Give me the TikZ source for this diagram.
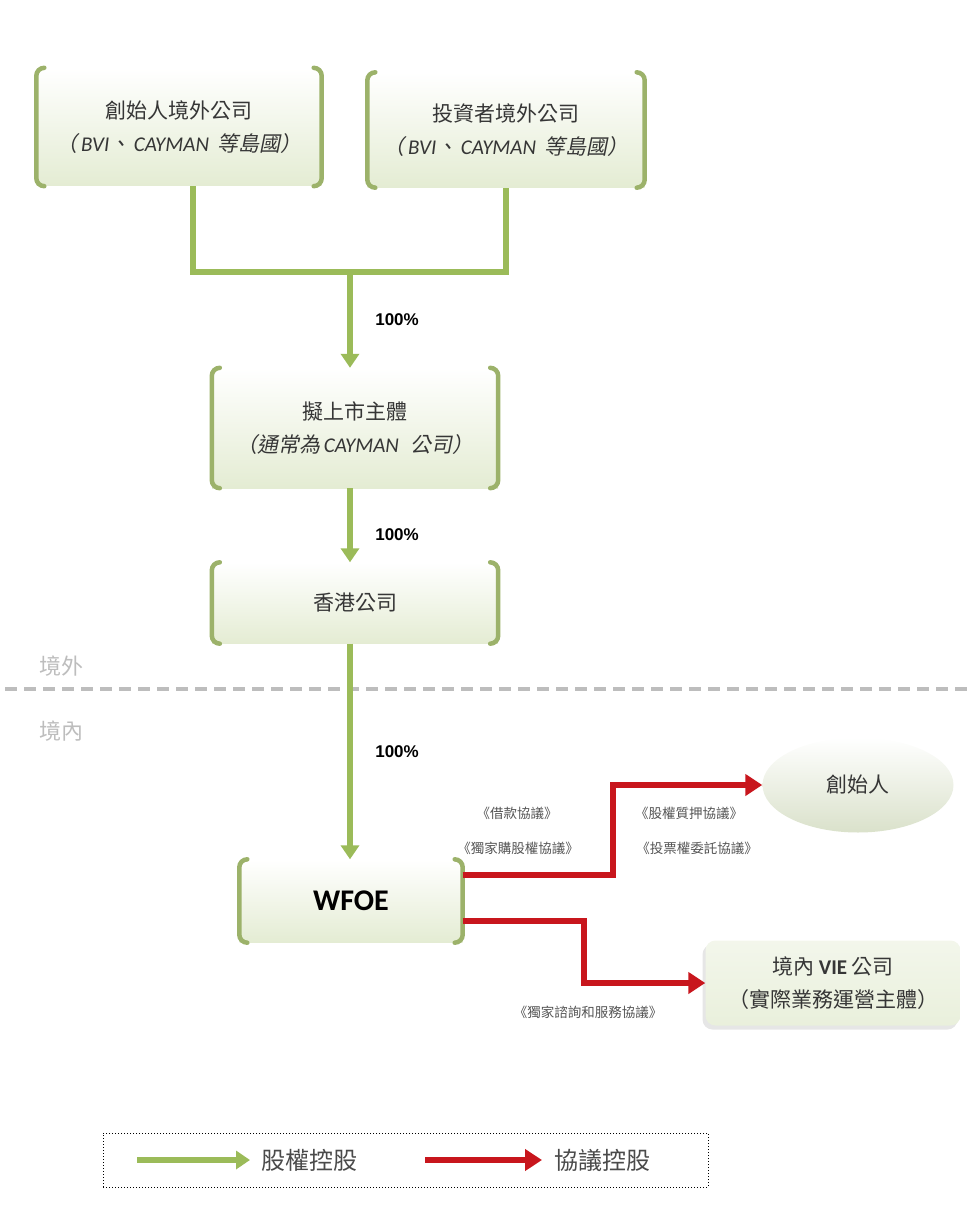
\documentclass[tikz,border=0pt]{standalone}
\usepackage{fontspec}
\setmainfont{Noto Sans CJK TC}[AutoFakeSlant=0.2]
\newfontfamily\latinfont{Carlito}
\newfontfamily\numfont{Liberation Sans}
\usetikzlibrary{arrows.meta,shapes.geometric,shadows}
\definecolor{ink}{HTML}{363636}
\definecolor{frame}{HTML}{9CB26A}
\definecolor{own}{HTML}{9BBB59}
\definecolor{pact}{HTML}{C8161D}
\definecolor{boxfill}{HTML}{E4ECD3}
\definecolor{zone}{HTML}{BDBDBD}

\begin{document}
\begin{tikzpicture}[x=1pt,y=-1pt,
  entity/.style={inner sep=0pt,align=center,text=ink,top color=white,bottom color=boxfill,
    font=\fontsize{21}{33}\selectfont},
  bracket/.style={draw=frame,line width=4.5pt,line cap=round,rounded corners=8pt},
  ownarr/.style={draw=own,line width=6pt,-{Triangle[length=14pt,width=18pt]}},
  pactarr/.style={draw=pact,line width=6pt,-{Triangle[length=17pt,width=21pt]}},
  pct/.style={font=\numfont\bfseries\fontsize{17}{20}\selectfont,text=black},
  deal/.style={font=\fontsize{13.5}{16}\selectfont,text=ink!85},
  zonelbl/.style={font=\fontsize{22}{24}\selectfont,text=zone},
  keytext/.style={font=\fontsize{24}{28}\selectfont,text=ink!90,anchor=west},
]
  \useasboundingbox (0,0) rectangle (975,1230);

  % offshore holding chain
  \node[entity,minimum width=285,minimum height=118] (fo) at (179,127)
    {創始人境外公司\\{\itshape （\,{\latinfont BVI}、\,{\latinfont CAYMAN}\, 等島國）}};
  \node[entity,minimum width=277,minimum height=115] (io) at (506,130)
    {投資者境外公司\\{\itshape （\,{\latinfont BVI}、\,{\latinfont CAYMAN}\, 等島國）}};
  \node[entity,minimum width=286,minimum height=120] (lst) at (355,428)
    {擬上市主體\\{\itshape （通常為\,{\latinfont CAYMAN}\,\, 公司）}};
  \node[entity,minimum width=286,minimum height=81] (hk) at (355,603) {香港公司};
  \node[entity,minimum width=223,minimum height=83,font=\latinfont\bfseries\fontsize{30}{34}\selectfont,text=black]
    (wfoe) at (351,901) {WFOE};
  \foreach \n in {fo,io,lst,hk,wfoe}
    \draw[bracket] ([xshift=8pt]\n.north west) -- (\n.north west) -- (\n.south west) -- ([xshift=8pt]\n.south west)
                   ([xshift=-8pt]\n.north east) -- (\n.north east) -- (\n.south east) -- ([xshift=-8pt]\n.south east);

  % onshore
  \node[ellipse,entity,minimum width=191,minimum height=95,bottom color=boxfill!90!gray] (fd) at (858,785) {創始人};
  \node[entity,rounded corners=10pt,minimum width=255,minimum height=85,top color=boxfill!45,bottom color=boxfill!80,
    drop shadow={shadow xshift=-3pt,shadow yshift=-4pt,opacity=.2}] (vie) at (833,983)
    {境內 {\latinfont\bfseries VIE} 公司\\（實際業務運營主體）};

  % border line
  \draw[zone,line width=4pt,dash pattern=on 12pt off 7pt] (5,689) -- (970,689);
  \node[zonelbl] (ofs) at (61,666) {境外};
  \node[zonelbl] (ons) at (61,731) {境內};

  % equity links
  \coordinate (jn) at (350,272);
  \draw[draw=own,line width=6pt] ([xshift=14pt]fo.south) |- (jn) -| (io.south);
  \draw[ownarr] (jn) -- node[pct,right=19pt] {100\%} (jn |- lst.north);
  \draw[ownarr] (lst.south -| jn) -- node[pct,right=19pt,pos=.63] {100\%} (jn |- hk.north);
  \draw[ownarr] (hk.south -| jn) -- node[pct,right=19pt] {100\%} (jn |- wfoe.north);

  % contract links
  \draw[pactarr] ([yshift=26pt]wfoe.east) -- ++(150,0) |- (fd.west);
  \draw[pactarr] ([yshift=-20pt]wfoe.east) -- ++(121,0) |- (vie.west);
  \node[deal] (d1) at (517,813) {《借款協議》};
  \node[deal] (d2) at (518,848) {《獨家購股權協議》};
  \node[deal] (d3) at (689,813) {《股權質押協議》};
  \node[deal] (d4) at (697,848) {《投票權委託協議》};
  \node[deal] (d5) at (588,1012) {《獨家諮詢和服務協議》};

  % legend
  \node[draw=black,dotted,line width=1pt,minimum width=605,minimum height=54] (key) at (405.5,1160) {};
  \coordinate (g1) at (137,1160);
  \coordinate (g2) at (250,1160);
  \coordinate (r1) at (425,1160);
  \coordinate (r2) at (542,1160);
  \draw[ownarr] (g1) -- (g2);
  \draw[pactarr] (r1) -- (r2);
  \node[keytext] (kg) at (258,1160) {股權控股};
  \node[keytext] (kr) at (551,1160) {協議控股};
\end{tikzpicture}
\end{document}
